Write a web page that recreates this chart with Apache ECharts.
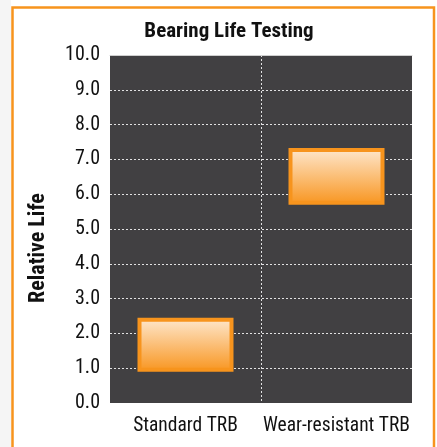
<!DOCTYPE html>
<html><head><meta charset="utf-8">
<script src="https://cdn.jsdelivr.net/npm/echarts@6/dist/echarts.min.js"></script>
<style>html,body{margin:0;padding:0;background:#fff}#c{width:437px;height:447px}</style>
</head><body><div id="c"></div>
<script>
var categories = ['Standard TRB', 'Wear-resistant TRB'];
var lowValues = [0.9, 5.7];
var highValues = [2.45, 7.33];
var yTicks = [0, 1, 2, 3, 4, 5, 6, 7, 8, 9, 10];

var FONT = "'Roboto Condensed', 'DejaVu Sans Condensed', sans-serif";
var chart = echarts.init(document.getElementById('c'), null, {renderer: 'canvas'});
var spans = highValues.map(function (h, i) { return h - lowValues[i]; });

chart.setOption({
  animation: false,
  backgroundColor: '#ffffff',
  graphic: [
    {type: 'rect', z: -10, shape: {x: 0, y: 0, width: 11, height: 447}, style: {fill: '#f5f5f5'}},
    {type: 'rect', z: -5, shape: {x: 12.5, y: 7.5, width: 421.5, height: 460}, style: {fill: '#ffffff', stroke: '#f7941d', lineWidth: 2.5}},
    {type: 'text', x: 38, y: 248, rotation: Math.PI / 2, style: {text: 'Relative Life', font: 'bold 22px ' + FONT, fill: '#111', textAlign: 'center', textVerticalAlign: 'middle'}}
  ],
  title: {
    text: 'Bearing Life Testing', left: 224, top: 16, textAlign: 'center',
    textStyle: {fontFamily: FONT, fontWeight: 'bold', fontSize: 21, color: '#111'}
  },
  grid: {left: 110, top: 55, width: 302, height: 348, show: true, backgroundColor: '#414042', borderWidth: 0},
  xAxis: [
    {type: 'category', data: categories, axisLine: {show: false}, axisTick: {show: false},
     axisLabel: {interval: 0, fontFamily: FONT, fontSize: 19.5, color: '#111', margin: 13}, splitLine: {show: false}},
    {type: 'value', position: 'top', min: 0, max: 2, interval: 1,
     axisLine: {show: true, lineStyle: {color: '#cfcfcf', width: 1}}, axisTick: {show: false}, axisLabel: {show: false},
     splitLine: {show: true, showMinLine: false, showMaxLine: false, lineStyle: {color: 'rgba(255,255,255,0.85)', type: [2, 2], width: 1}}}
  ],
  yAxis: {
    type: 'value', min: yTicks[0], max: yTicks[yTicks.length - 1], interval: 1,
    axisLine: {show: false}, axisTick: {show: false},
    axisLabel: {fontFamily: FONT, fontSize: 20, color: '#111', margin: 10, formatter: function (v) { return v.toFixed(1); }},
    splitLine: {show: true, showMinLine: false, showMaxLine: false, lineStyle: {color: 'rgba(255,255,255,0.85)', type: [2, 2], width: 1}}
  },
  series: [
    {type: 'bar', stack: 'r', data: lowValues, barWidth: 96, itemStyle: {color: 'rgba(0,0,0,0)'}, silent: true},
    {type: 'bar', stack: 'r', data: spans, barWidth: 96,
     itemStyle: {
       color: new echarts.graphic.LinearGradient(0, 0, 0, 1, [{offset: 0, color: '#fee8cf'}, {offset: 1, color: '#f8951f'}]),
       borderColor: '#f7941d', borderWidth: 4
     }}
  ]
});
</script></body></html>
